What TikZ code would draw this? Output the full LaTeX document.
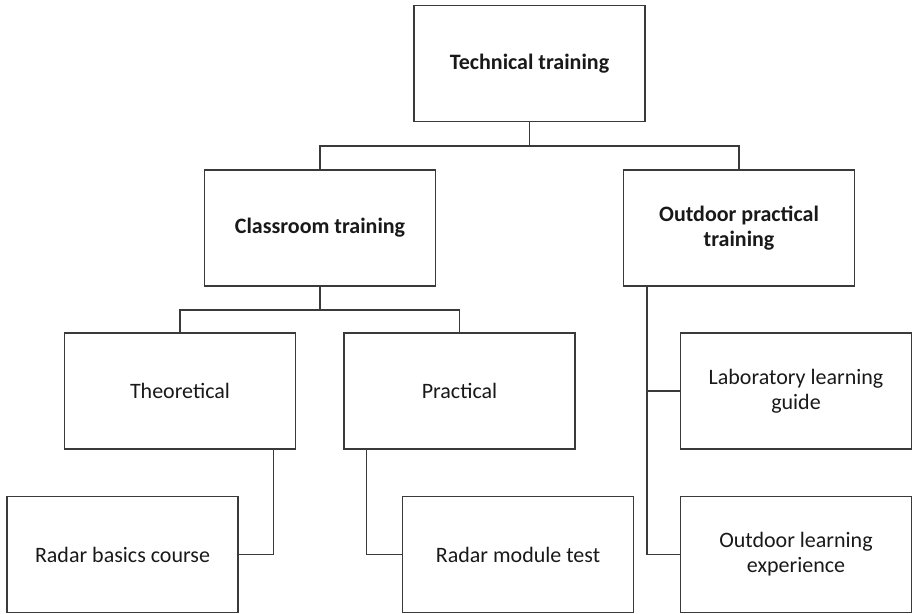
\documentclass[tikz,border=0pt]{standalone}
\usepackage{fontspec}
\setmainfont{Carlito}
\definecolor{linegray}{HTML}{3A3A3A}
\begin{document}
\begin{tikzpicture}[x=1pt, y=-1pt,
	box/.style={draw=linegray, line width=1.5pt, minimum width=231pt, minimum height=116pt, align=center, font=\fontsize{22}{25}\selectfont, text=black!90},
	head/.style={box, font=\fontsize{22}{25}\selectfont\bfseries},
	link/.style={draw=linegray, line width=1.5pt}]
	\useasboundingbox (0,0) rectangle (912,613);
	
	% top level
	\node[head] (tech) at (529.5, 63.5) {Technical training};
	
	% second level
	\node[head] (class) at (320, 228) {Classroom training};
	\node[head] (outdoor) at (739, 228) {Outdoor practical\\training};
	
	% third level
	\node[box] (theo) at (180, 391) {Theoretical};
	\node[box] (prac) at (459.5, 391) {Practical};
	\node[box] (lab) at (796, 391) {Laboratory learning\\guide};
	
	% bottom level
	\node[box] (radarb) at (122.5, 554.5) {Radar basics course};
	\node[box] (radarm) at (518, 554.5) {Radar module test};
	\node[box] (outl) at (796, 554.5) {Outdoor learning\\experience};
	
	% connectors
	\coordinate (tbus) at (529.5, 146);
	\draw[link] (tech.south) -- (tbus) -| (class.north);
	\draw[link] (tbus) -| (outdoor.north);
	
	\coordinate (cbus) at (320, 310);
	\draw[link] (class.south) -- (cbus) -| (theo.north);
	\draw[link] (cbus) -| (prac.north);
	
	\draw[link] ([xshift=-23pt]theo.south east) |- (radarb.east);
	\draw[link] ([xshift=23pt]prac.south west) |- (radarm.west);
	
	\coordinate (obus) at ([xshift=24pt]outdoor.south west);
	\draw[link] (obus) |- (outl.west);
	\draw[link] (lab.west) -- (lab.west -| obus);
\end{tikzpicture}
\end{document}
